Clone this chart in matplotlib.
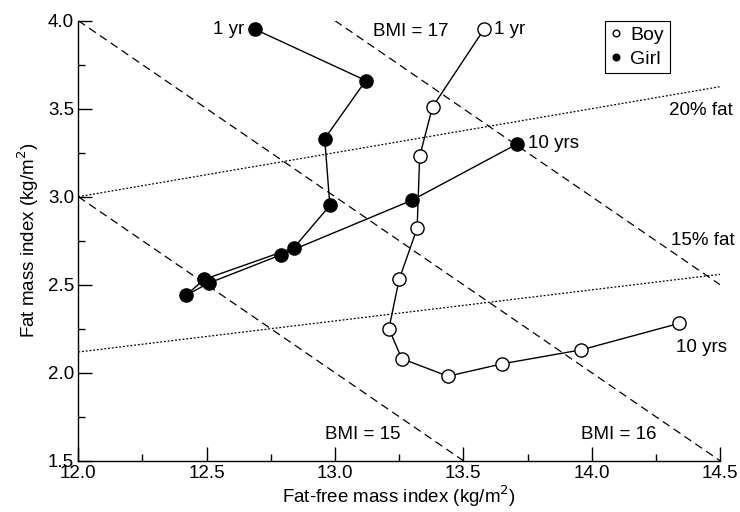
import matplotlib
matplotlib.use('Agg')
import numpy as np
import matplotlib.pyplot as plt
from matplotlib.ticker import MultipleLocator, FormatStrFormatter

plt.rcParams['font.family'] = ['Liberation Sans', 'DejaVu Sans']

# ── Data ──
boy_ffmi = [13.58, 13.38, 13.33, 13.32, 13.25, 13.21, 13.26, 13.44, 13.65, 13.96, 14.34]
boy_fmi = [3.95, 3.51, 3.23, 2.82, 2.53, 2.25, 2.08, 1.98, 2.05, 2.13, 2.28]
girl_ffmi = [12.69, 13.12, 12.96, 12.98, 12.84, 12.49, 12.42, 12.51, 12.79, 13.30, 13.71]
girl_fmi = [3.95, 3.66, 3.33, 2.95, 2.71, 2.53, 2.44, 2.51, 2.67, 2.98, 3.30]

bmi_values = [15, 16, 17]
fat_pcts = [20, 15]

fig = plt.figure(figsize=(7.4, 5.12), dpi=100)
ax = fig.add_axes([0.1058, 0.1002, 0.8672, 0.8594])

xmin, xmax = 12.0, 14.5
ymin, ymax = 1.5, 4.0

# BMI isolines: FFMI + FMI = BMI
for b in bmi_values:
    x0 = max(xmin, b - ymax)
    x1 = min(xmax, b - ymin)
    xs = np.array([x0, x1])
    ax.plot(xs, b - xs, color='black', lw=0.9, ls=(0, (6.5, 4)), zorder=1)

# percent fat isolines: FMI = p/(1-p) * FFMI
for p in fat_pcts:
    k = p / (100 - p)
    xs = np.array([xmin, xmax])
    ax.plot(xs, k * xs, color='black', lw=0.9, ls=(0, (1.5, 1.5)), zorder=1)

ax.plot(boy_ffmi, boy_fmi, '-o', color='black', lw=1.0, ms=9.5,
        mfc='white', mec='black', mew=1.0, label='Boy', zorder=3)
ax.plot(girl_ffmi, girl_fmi, '-o', color='black', lw=1.0, ms=9.5,
        mfc='black', mec='black', mew=1.0, label='Girl', zorder=3)

fs = 13.5
ax.annotate('1 yr', (girl_ffmi[0], girl_fmi[0]), xytext=(-8, 0),
            textcoords='offset points', ha='right', va='center', fontsize=fs)
ax.annotate('10 yrs', (girl_ffmi[-1], girl_fmi[-1]), xytext=(8, 0),
            textcoords='offset points', ha='left', va='center', fontsize=fs)
ax.annotate('1 yr', (boy_ffmi[0], boy_fmi[0]), xytext=(7, 0),
            textcoords='offset points', ha='left', va='center', fontsize=fs)
ax.annotate('10 yrs', (boy_ffmi[-1], boy_fmi[-1]), xytext=(-2, -11),
            textcoords='offset points', ha='left', va='top', fontsize=fs)

ax.text(14.30, 3.49, '20% fat', ha='left', va='center', fontsize=fs)
ax.text(14.31, 2.75, '15% fat', ha='left', va='center', fontsize=fs)
ax.text(13.15, 3.94, 'BMI = 17', ha='left', va='center', fontsize=fs)
ax.text(12.96, 1.65, 'BMI = 15', ha='left', va='center', fontsize=fs)
ax.text(13.96, 1.65, 'BMI = 16', ha='left', va='center', fontsize=fs)

ax.set_xlim(xmin, xmax)
ax.set_ylim(ymin, ymax)
ax.xaxis.set_major_locator(MultipleLocator(0.5))
ax.xaxis.set_minor_locator(MultipleLocator(0.25))
ax.yaxis.set_major_locator(MultipleLocator(0.5))
ax.yaxis.set_minor_locator(MultipleLocator(0.25))
ax.xaxis.set_major_formatter(FormatStrFormatter('%.1f'))
ax.yaxis.set_major_formatter(FormatStrFormatter('%.1f'))
ax.tick_params(which='major', direction='in', length=10, width=1.0, labelsize=fs, pad=3)
ax.tick_params(which='minor', direction='in', length=5, width=1.0)
for s in ['top', 'right']:
    ax.spines[s].set_visible(False)
for s in ['left', 'bottom']:
    ax.spines[s].set_linewidth(1.0)

ax.set_xlabel('Fat-free mass index (kg/m$^2$)', fontsize=fs, labelpad=1)
ax.set_ylabel('Fat mass index (kg/m$^2$)', fontsize=fs, labelpad=5)

leg = ax.legend(loc='upper left', bbox_to_anchor=(0.821, 1.0), fontsize=14,
                markerscale=0.5, handlelength=0.5, handletextpad=0.5,
                borderpad=0.3, labelspacing=0.3, borderaxespad=0,
                fancybox=False, edgecolor='black', framealpha=1)
leg.get_frame().set_linewidth(0.8)
for h in leg.get_lines():
    h.set_linestyle('')

fig.savefig('out.png', dpi=100)
